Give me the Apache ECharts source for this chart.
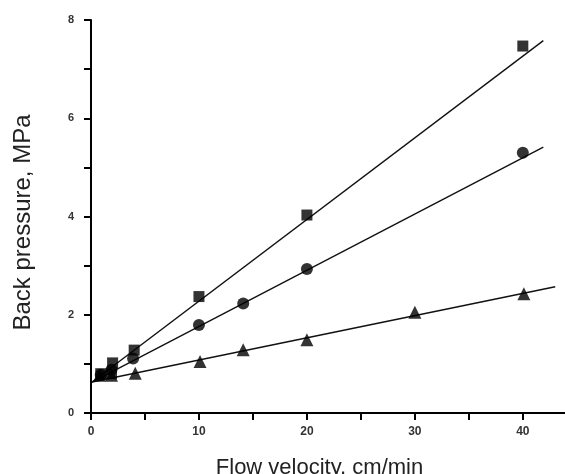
<!DOCTYPE html>
<html>
<head>
<meta charset="utf-8">
<script src="https://cdn.jsdelivr.net/npm/echarts@6/dist/echarts.min.js"></script>
<style>
  html, body { margin: 0; padding: 0; background: #fff; }
  #chart { width: 565px; height: 474px; }
</style>
</head>
<body>
<div id="chart"></div>
<script>
// measured points (flow velocity cm/min, back pressure MPa)
const squareX = [0.9, 1.9, 2.0, 4.0, 10.0, 20.0, 40.0];
const squareY = [0.80, 0.80, 1.02, 1.28, 2.37, 4.03, 7.47];
const circleX = [0.9, 1.9, 3.9, 10.0, 14.1, 20.0, 40.0];
const circleY = [0.78, 0.88, 1.11, 1.79, 2.23, 2.93, 5.30];
const triangleX = [0.8, 1.9, 4.1, 10.1, 14.1, 20.0, 30.0, 40.1];
const triangleY = [0.77, 0.77, 0.81, 1.05, 1.29, 1.49, 2.05, 2.43];

// linear fit lines, start and end points
const fitSquare = [[0.1, 0.63], [41.9, 7.58]];
const fitCircle = [[0.1, 0.63], [41.9, 5.41]];
const fitTriangle = [[0.1, 0.63], [43.0, 2.57]];

const pts = (xs, ys) => xs.map((x, i) => [x, ys[i]]);

const chart = echarts.init(document.getElementById("chart"));

const fitLine = (data) => ({
  type: "line",
  data: data,
  symbol: "none",
  silent: true,
  lineStyle: { color: "#111", width: 1.4 },
  z: 1
});

const markers = (data, symbol, size) => ({
  type: "scatter",
  data: data,
  symbol: symbol,
  symbolSize: size,
  itemStyle: { color: "#000" },
  z: 3
});

chart.setOption({
  animation: false,
  grid: { left: 91, top: 20, right: -1, bottom: 61, containLabel: false, outerBoundsMode: "none" },
  xAxis: {
    type: "value",
    min: 0,
    max: 44,
    interval: 5,
    name: "Flow velocity, cm/min",
    nameLocation: "middle",
    nameGap: 44,
    nameTextStyle: { fontFamily: "Liberation Sans", fontSize: 22, color: "#222", padding: [0, 18, 0, 0] },
    splitLine: { show: false },
    axisLine: { onZero: false, lineStyle: { color: "#000", width: 2 } },
    axisTick: { inside: false, length: 7, lineStyle: { color: "#000", width: 2 } },
    axisLabel: {
      margin: 13,
      fontFamily: "Liberation Sans",
      fontWeight: "bold",
      fontSize: 12,
      color: "#333",
      formatter: (v) => (v % 10 === 0 ? String(v) : "")
    }
  },
  yAxis: {
    type: "value",
    min: 0,
    max: 8,
    interval: 1,
    name: "Back pressure, MPa",
    nameLocation: "middle",
    nameGap: 56,
    nameRotate: 90,
    nameTextStyle: { fontFamily: "Liberation Sans", fontSize: 24, color: "#222", padding: [0, 12, 0, 0] },
    splitLine: { show: false },
    axisLine: { onZero: false, lineStyle: { color: "#000", width: 2 } },
    axisTick: { inside: false, length: 7, lineStyle: { color: "#000", width: 2 } },
    axisLabel: {
      margin: 17,
      fontFamily: "Liberation Sans",
      fontWeight: "bold",
      fontSize: 11,
      color: "#333",
      formatter: (v) => (v % 2 === 0 ? String(v) : "")
    }
  },
  series: [
    fitLine(fitSquare),
    fitLine(fitCircle),
    fitLine(fitTriangle),
    markers(pts(squareX, squareY), "rect", 11),
    markers(pts(circleX, circleY), "circle", 12),
    markers(pts(triangleX, triangleY), "triangle", 13)
  ]
});
</script>
</body>
</html>
